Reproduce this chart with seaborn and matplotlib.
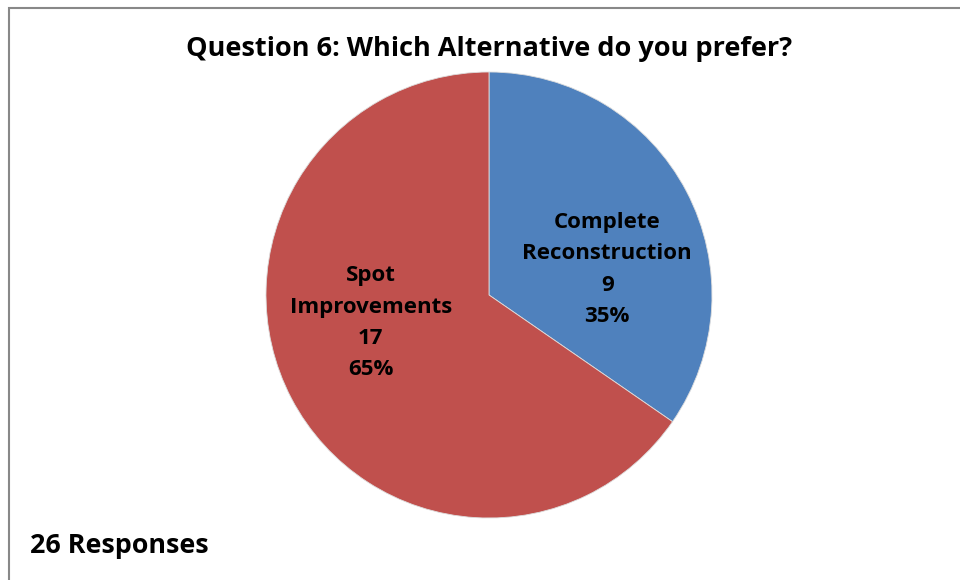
import matplotlib
matplotlib.use("Agg")
import matplotlib.pyplot as plt
import seaborn as sns
from matplotlib.patches import Rectangle

categories = ["Complete\nReconstruction", "Spot\nImprovements"]
counts = [9, 17]
colors = ["#4F81BD", "#C0504D"]
title = "Question 6: Which Alternative do you prefer?"
footer = "26 Responses"

sns.set_theme(style="white")
plt.rcParams["font.family"] = ["Open Sans", "DejaVu Sans"]

fig = plt.figure(figsize=(9.6, 5.8), dpi=100)
ax = fig.add_axes([266 / 960, 62 / 580, 446 / 960, 446 / 580])

total = sum(counts)
labels = [f"{c}\n{n}\n{round(n / total * 100)}%" for c, n in zip(categories, counts)]
wedges, texts = ax.pie(counts, colors=colors, startangle=90, counterclock=False,
                       radius=1, labels=labels, labeldistance=0.55,
                       wedgeprops=dict(edgecolor="#dddddd", linewidth=0.6),
                       textprops=dict(fontsize=16, fontweight="bold", color="black",
                                      ha="center", va="center", linespacing=1.65))
texts[0].set_position((0.53, 0.115))
texts[1].set_position((-0.53, -0.125))
for t in texts:
    t.set_ha("center")
    t.set_va("center")
ax.set_xlim(-1, 1)
ax.set_ylim(-1, 1)
ax.set_aspect("equal")
ax.axis("off")

fig.text(489 / 960, 1 - 49 / 580, title, ha="center", va="center",
         fontsize=19.5, fontweight="bold", color="black")
fig.text(30 / 960, 1 - 546 / 580, footer, ha="left", va="center",
         fontsize=19.4, fontweight="bold", color="black")

fig.patches.append(Rectangle((8.5 / 960, -0.1), 1.2, 1 - 7.5 / 580 + 0.1,
                             transform=fig.transFigure, fill=False,
                             edgecolor="#888888", linewidth=1.5))

fig.savefig("out.png", dpi=100, facecolor="white")
